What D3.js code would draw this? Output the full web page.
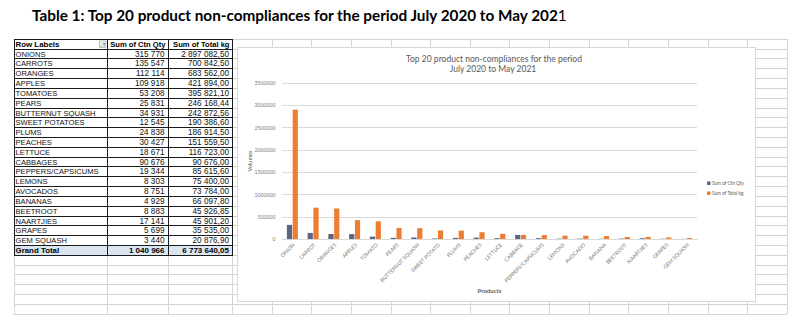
<!DOCTYPE html>
<html><head><meta charset="utf-8">
<script src="https://cdn.jsdelivr.net/npm/d3@7"></script>
<style>html,body{margin:0;padding:0;background:#fff;overflow:hidden}</style>
</head><body>
<svg id="c" width="799" height="323"></svg>
<script>
// ---------- DATA ----------
const tableHeaders = ["Row Labels", "Sum of Ctn Qty", "Sum of Total kg"];
const tableLabels = ["ONIONS","CARROTS","ORANGES","APPLES","TOMATOES","PEARS","BUTTERNUT SQUASH","SWEET POTATOES","PLUMS","PEACHES","LETTUCE","CABBAGES","PEPPERS/CAPSICUMS","LEMONS","AVOCADOS","BANANAS","BEETROOT","NAARTJIES","GRAPES","GEM SQUASH"];
const categories = ["ONION","CARROT","ORANGES","APPLES","TOMATO","PEARS","BUTTERNUT SQUASH","SWEET POTATO","PLUMS","PEACHES","LETTUCE","CABBAGE","PEPPERS/CAPSICUMS","LEMONS","AVOCADO","BANANA","BEETROOT","NAARTJIES","GRAPES","GEM SQUASH"];
const ctnQty = [315770,135547,112114,109918,53208,25831,34931,12545,24838,30427,18671,90676,19344,8303,8751,4929,8883,17141,5699,3440];
const totalKg = [2897082.50,700842.50,683562.00,421894.00,395821.10,246168.44,242872.56,190386.60,186914.50,151559.50,116723.00,90676.00,85615.60,75400.00,73784.00,66097.80,45926.85,45901.20,35535.00,20876.90];
const seriesNames = ["Sum of Ctn Qty", "Sum of Total kg"];
const yTicks = [0,500000,1000000,1500000,2000000,2500000,3000000,3500000];
const totalLabel = "Grand Total";

// ---------- SETUP ----------
const svg = d3.select("#c");
const loc = d3.formatLocale({decimal: ",", thousands: "\u00a0", grouping: [3], currency: ["", ""]});
const fInt = loc.format(",.0f"), fDec = loc.format(",.2f");

function fit(sel, w) {
  const n = sel.node(); const len = n.getComputedTextLength();
  const fs = parseFloat(sel.attr("font-size"));
  sel.attr("font-size", (fs * w / len).toFixed(2));
}

// Page title
const title = svg.append("text").attr("x", 32).attr("y", 21)
  .attr("font-family", "Lato, 'Open Sans', sans-serif").attr("font-size", 14)
  .attr("font-weight", "bold").attr("fill", "#000");
title.append("tspan").text("Table 1: Top 20 product non-compliances for the period July 2020 to May 202");
title.append("tspan").attr("font-weight", "normal").text("1");
fit(title, 535);

// ---------- SPREADSHEET GRID ----------
const rowTop = 38.8, rowH = 9.82, nGridRows = 28;
const colX = [14, 107, 168, 232];
for (let k = 1; k <= 14; k++) colX.push(232 + k * 39.64);
const gridBottom = rowTop + rowH * nGridRows;
const gridRight = colX[colX.length - 1];
const grid = svg.append("g").attr("stroke", "#d4d4d4").attr("stroke-width", 1).attr("shape-rendering", "crispEdges");
for (let i = 0; i <= nGridRows; i++) {
  const y = Math.round(rowTop + i * rowH) + 0.5;
  grid.append("line").attr("x1", 14).attr("x2", gridRight).attr("y1", y).attr("y2", y);
}
colX.forEach(x => grid.append("line").attr("x1", Math.round(x) + 0.5).attr("x2", Math.round(x) + 0.5)
  .attr("y1", rowTop).attr("y2", gridBottom));

// ---------- PIVOT TABLE ----------
const tbl = svg.append("g");
const nRows = tableLabels.length + 2;
const ry = i => Math.round(rowTop + i * rowH) + 0.5;
// background
tbl.append("rect").attr("x", colX[0]).attr("y", ry(0)).attr("width", colX[3] - colX[0]).attr("height", ry(nRows) - ry(0)).attr("fill", "#fff");
tbl.append("rect").attr("x", colX[0]).attr("y", ry(nRows - 1)).attr("width", colX[3] - colX[0]).attr("height", ry(nRows) - ry(nRows - 1)).attr("fill", "#dce6f1");
const tl = tbl.append("g").attr("stroke", "#1a1a1a").attr("shape-rendering", "crispEdges");
for (let i = 0; i <= nRows; i++) {
  const w = (i === 0 || i === 1 || i === nRows - 1 || i === nRows) ? 1.5 : 1;
  tl.append("line").attr("x1", colX[0]).attr("x2", colX[3] + 0.5).attr("y1", ry(i)).attr("y2", ry(i)).attr("stroke-width", w);
}
[0, 1, 2, 3].forEach(c => {
  const x = Math.round(colX[c]) + 0.5;
  tl.append("line").attr("x1", x).attr("x2", x).attr("y1", ry(0)).attr("y2", ry(nRows)).attr("stroke-width", (c === 0 || c === 3) ? 1.6 : 1);
});
const tf = "'Liberation Sans', Arial, sans-serif";
// header
tbl.append("text").attr("x", 15.5).attr("y", ry(0) + 7.8).attr("font-family", tf).attr("font-size", 7.9).attr("font-weight", "bold").text(tableHeaders[0]);
tbl.append("text").attr("x", colX[2] - 2.5).attr("y", ry(0) + 7.8).attr("text-anchor", "end").attr("font-family", tf).attr("font-size", 7.6).attr("font-weight", "bold").text(tableHeaders[1]);
tbl.append("text").attr("x", colX[3] - 2.5).attr("y", ry(0) + 7.8).attr("text-anchor", "end").attr("font-family", tf).attr("font-size", 7.6).attr("font-weight", "bold").text(tableHeaders[2]);
// filter icon
tbl.append("rect").attr("x", 99.5).attr("y", ry(0) + 1.5).attr("width", 6.5).attr("height", 6.5).attr("fill", "#f4f4f4").attr("stroke", "#9a9a9a").attr("stroke-width", 0.6);
tbl.append("text").attr("x", 102.8).attr("y", ry(0) + 7).attr("text-anchor", "middle").attr("font-family", tf).attr("font-size", 5.2).attr("fill", "#444").text("\u2193T");
// rows
tableLabels.forEach((lab, i) => {
  const y = ry(i + 1) + 7.9;
  tbl.append("text").attr("x", 15.5).attr("y", y).attr("font-family", tf).attr("font-size", 7.6).attr("fill", "#111").text(lab);
  tbl.append("text").attr("x", colX[2] - 3.5).attr("y", y).attr("text-anchor", "end").attr("font-family", tf).attr("font-size", 8.2).attr("fill", "#111").text(fInt(ctnQty[i]));
  tbl.append("text").attr("x", colX[3] - 3).attr("y", y).attr("text-anchor", "end").attr("font-family", tf).attr("font-size", 8.2).attr("fill", "#111").text(fDec(totalKg[i]));
});
const gy = ry(nRows - 1) + 7.9;
tbl.append("text").attr("x", 15.5).attr("y", gy).attr("font-family", tf).attr("font-size", 7.9).attr("font-weight", "bold").text(totalLabel);
tbl.append("text").attr("x", colX[2] - 3.5).attr("y", gy).attr("text-anchor", "end").attr("font-family", tf).attr("font-size", 8).attr("font-weight", "bold").text(fInt(d3.sum(ctnQty)));
tbl.append("text").attr("x", colX[3] - 3).attr("y", gy).attr("text-anchor", "end").attr("font-family", tf).attr("font-size", 8).attr("font-weight", "bold").text(fDec(d3.sum(totalKg)));

// ---------- CHART ----------
const cf = "Lato, 'Open Sans', sans-serif";
const chart = svg.append("g");
chart.append("rect").attr("x", 237.5).attr("y", 47.5).attr("width", 518).attr("height", 254)
  .attr("fill", "#fff").attr("stroke", "#d9d9d9").attr("stroke-width", 1);

const t1 = chart.append("text").attr("x", 494).attr("y", 62.3).attr("text-anchor", "middle")
  .attr("font-family", cf).attr("font-size", 9).attr("fill", "#595959").text("Top 20 product non-compliances for the period");
fit(t1, 176);
chart.append("text").attr("x", 493).attr("y", 72.3).attr("text-anchor", "middle")
  .attr("font-family", cf).attr("font-size", t1.attr("font-size")).attr("fill", "#595959").text("July 2020 to May 2021");

const plot = {left: 282, right: 697, top: 82.7, bottom: 239};
const y = d3.scaleLinear().domain([0, 3500000]).range([plot.bottom, plot.top]);
const x = d3.scaleBand().domain(categories).range([plot.left, plot.right]).paddingInner(0.47).paddingOuter(0.235);
const x1 = d3.scaleBand().domain(seriesNames).range([0, x.bandwidth()]).paddingInner(0.1);
const color = d3.scaleOrdinal().domain(seriesNames).range(["#5a6783", "#ed7d31"]);

const yAxis = chart.append("g").attr("transform", `translate(${plot.left},0)`)
  .call(d3.axisLeft(y).tickValues(yTicks).tickFormat(d3.format("d")).tickSize(-(plot.right - plot.left)).tickPadding(6.5));
yAxis.select(".domain").remove();
yAxis.selectAll("line").attr("stroke", "#d9d9d9").attr("shape-rendering", "crispEdges");
yAxis.selectAll("text").attr("font-family", cf).attr("font-size", 5.2).attr("fill", "#7a7a7a");

const xAxis = chart.append("g").attr("transform", `translate(0,${plot.bottom})`)
  .call(d3.axisBottom(x).tickSize(0));
xAxis.select(".domain").attr("stroke", "#d9d9d9");
xAxis.selectAll("text").attr("font-family", cf).attr("font-size", 5.2).attr("fill", "#7a7a7a")
  .attr("text-anchor", "end").attr("x", 0).attr("y", 0).attr("dy", "0.35em")
  .attr("transform", "translate(1.5,5) rotate(-45)");

const groups = chart.append("g").selectAll("g").data(categories).join("g")
  .attr("transform", d => `translate(${x(d)},0)`);
groups.selectAll("rect").data((d, i) => [{s: seriesNames[0], v: ctnQty[i]}, {s: seriesNames[1], v: totalKg[i]}])
  .join("rect")
  .attr("x", d => x1(d.s)).attr("width", x1.bandwidth())
  .attr("y", d => y(d.v)).attr("height", d => y(0) - y(d.v))
  .attr("fill", d => color(d.s));

chart.append("text").attr("transform", `translate(252,161) rotate(-90)`).attr("text-anchor", "middle")
  .attr("font-family", cf).attr("font-size", 5.6).attr("fill", "#595959").text("Volumes");
chart.append("text").attr("x", 489.5).attr("y", 293).attr("text-anchor", "middle")
  .attr("font-family", cf).attr("font-size", 6).attr("font-weight", "bold").attr("fill", "#595959").text("Products");

const leg = chart.append("g").selectAll("g").data(seriesNames).join("g")
  .attr("transform", (d, i) => `translate(707,${181.5 + i * 10})`);
leg.append("rect").attr("width", 3.5).attr("height", 3.5).attr("fill", d => color(d));
leg.append("text").attr("x", 5).attr("y", 3.4).attr("font-family", cf).attr("font-size", 4.7).attr("fill", "#595959").text(d => d);
</script>
</body></html>
